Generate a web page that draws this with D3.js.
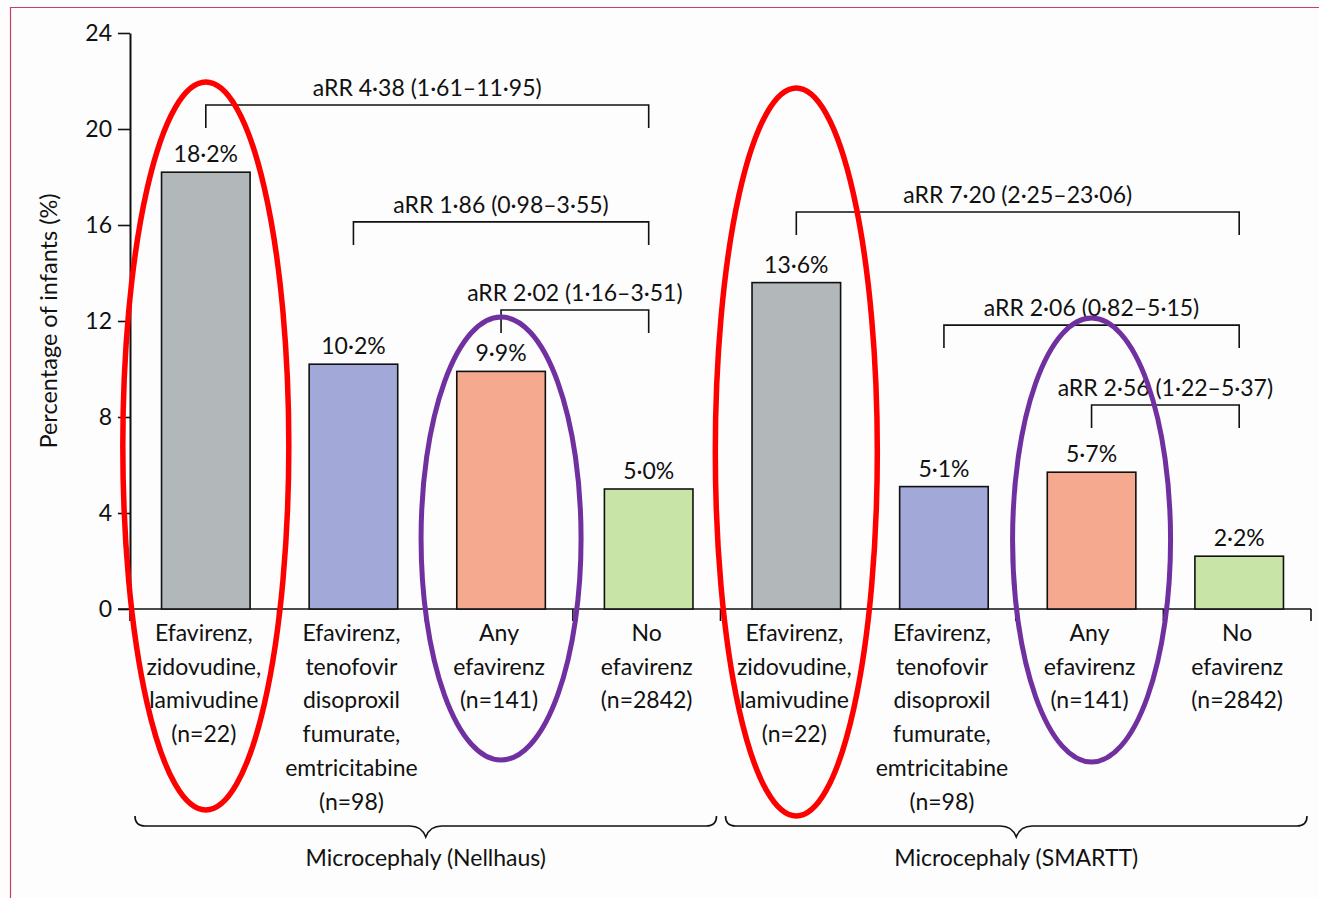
<!DOCTYPE html>
<html>
<head>
<meta charset="utf-8">
<script src="https://cdn.jsdelivr.net/npm/d3@7"></script>
<style>
  body { margin: 0; background: #fdfdfd; }
  svg text { font-family: Lato, "Open Sans", sans-serif; fill: #111; }
</style>
</head>
<body>
<div id="chart"></div>
<script>
// Chart data
var categories = ['EZL-N', 'ETF-N', 'ANY-N', 'NO-N', 'EZL-S', 'ETF-S', 'ANY-S', 'NO-S'];
var values = [18.2, 10.2, 9.9, 5.0, 13.6, 5.1, 5.7, 2.2];
var valueLabels = ['18·2%', '10·2%', '9·9%', '5·0%', '13·6%', '5·1%', '5·7%', '2·2%'];
var categoryLabels = [
  ['Efavirenz,', 'zidovudine,', 'lamivudine', '(n=22)'],
  ['Efavirenz,', 'tenofovir', 'disoproxil', 'fumurate,', 'emtricitabine', '(n=98)'],
  ['Any', 'efavirenz', '(n=141)'],
  ['No', 'efavirenz', '(n=2842)'],
  ['Efavirenz,', 'zidovudine,', 'lamivudine', '(n=22)'],
  ['Efavirenz,', 'tenofovir', 'disoproxil', 'fumurate,', 'emtricitabine', '(n=98)'],
  ['Any', 'efavirenz', '(n=141)'],
  ['No', 'efavirenz', '(n=2842)']
];
var barColors = ['#b2b8b9', '#a2a8d8', '#f5aa8f', '#c9e4a7', '#b2b8b9', '#a2a8d8', '#f5aa8f', '#c9e4a7'];
var groupNames = ['Microcephaly (Nellhaus)', 'Microcephaly (SMARTT)'];
var groupMembers = [[0, 3], [4, 7]];
var yTicks = [0, 4, 8, 12, 16, 20, 24];

// comparisons: from bar, to bar, bracket level (in %), text
var compFrom = [0, 1, 2, 4, 5, 6];
var compTo = [3, 3, 3, 7, 7, 7];
var compLevel = [21.0, 16.13, 12.46, 16.54, 11.83, 8.5];
var compText = ['aRR 4·38 (1·61–11·95)', 'aRR 1·86 (0·98–3·55)', 'aRR 2·02 (1·16–3·51)',
                'aRR 7·20 (2·25–23·06)', 'aRR 2·06 (0·82–5·15)', 'aRR 2·56 (1·22–5·37)'];

// highlighted categories (ellipses)
var highlightCat = [0, 4, 2, 6];
var highlightColor = ['#ff0000', '#ff0000', '#7030a0', '#7030a0'];

var width = 1319, height = 898;
var svg = d3.select('#chart').append('svg')
  .attr('width', width)
  .attr('height', height)
  .style('display', 'block');

svg.append('rect').attr('width', width).attr('height', height).attr('fill', '#fdfdfd');

// pink frame lines (top and left)
svg.append('line').attr('x1', 10).attr('x2', width).attr('y1', 7.5).attr('y2', 7.5)
  .attr('stroke', '#cc3d5f').attr('stroke-width', 1.2);
svg.append('line').attr('x1', 10.5).attr('x2', 10.5).attr('y1', 7).attr('y2', height)
  .attr('stroke', '#cc3d5f').attr('stroke-width', 1.2);

var x = d3.scaleBand().domain(categories).range([130, 1311]).paddingInner(0.4).paddingOuter(0.2);
var y = d3.scaleLinear().domain([0, 24]).range([609, 33]);

// y axis
var yAxis = svg.append('g').attr('transform', 'translate(130,0)')
  .call(d3.axisLeft(y).tickValues(yTicks).tickSize(12).tickSizeOuter(0).tickPadding(6));
yAxis.select('.domain').attr('stroke', '#111').attr('stroke-width', 2);
yAxis.selectAll('.tick line').attr('stroke', '#111').attr('stroke-width', 1.6);
yAxis.selectAll('.tick text').style('font-family', 'Lato, sans-serif').style('font-size', '23px').attr('fill', '#111');

svg.append('text')
  .attr('transform', 'translate(57,' + 321 + ') rotate(-90)')
  .attr('text-anchor', 'middle')
  .style('font-size', '23.5px')
  .text('Percentage of infants (%)');

// x axis baseline with ticks at band boundaries
var step = x.step();
var x0 = x.range()[0];
svg.append('line').attr('x1', 118).attr('x2', x.range()[1]).attr('y1', y(0)).attr('y2', y(0))
  .attr('stroke', '#111').attr('stroke-width', 1.6);
svg.selectAll('.xtick').data(d3.range(categories.length + 1)).enter().append('line')
  .attr('class', 'xtick')
  .attr('x1', function(i){ return x0 + i * step; })
  .attr('x2', function(i){ return x0 + i * step; })
  .attr('y1', y(0))
  .attr('y2', y(0) + 12)
  .attr('stroke', '#111').attr('stroke-width', 1.6);

// bars
svg.selectAll('.bar').data(categories).enter().append('rect')
  .attr('class', 'bar')
  .attr('x', function(d){ return x(d) + 2; })
  .attr('y', function(d, i){ return y(values[i]); })
  .attr('width', x.bandwidth())
  .attr('height', function(d, i){ return y(0) - y(values[i]); })
  .attr('fill', function(d, i){ return barColors[i]; })
  .attr('stroke', '#111').attr('stroke-width', 1.6);

// value labels
svg.selectAll('.vlabel').data(categories).enter().append('text')
  .attr('class', 'vlabel')
  .attr('x', function(d){ return x(d) + 2 + x.bandwidth() / 2; })
  .attr('y', function(d, i){ return y(values[i]) - 10; })
  .attr('text-anchor', 'middle')
  .style('font-size', '23px')
  .text(function(d, i){ return valueLabels[i]; });

// category labels
var catG = svg.selectAll('.clabel').data(categories).enter().append('text')
  .attr('class', 'clabel')
  .attr('text-anchor', 'middle')
  .style('font-size', '23px');
catG.each(function(d, i){
  var t = d3.select(this);
  categoryLabels[i].forEach(function(line, j){
    t.append('tspan')
      .attr('x', x(d) + x.bandwidth() / 2)
      .attr('y', 641 + j * 33.7)
      .text(line);
  });
});

// comparison brackets
function cx(i){ return x(categories[i]) + 2 + x.bandwidth() / 2; }
compText.forEach(function(txt, k){
  var a = cx(compFrom[k]), b = cx(compTo[k]);
  var ly = y(compLevel[k]);
  svg.append('path')
    .attr('d', 'M' + a + ',' + (ly + 23) + 'V' + ly + 'H' + b + 'V' + (ly + 23))
    .attr('fill', 'none').attr('stroke', '#111').attr('stroke-width', 1.6);
  svg.append('text')
    .attr('x', (a + b) / 2)
    .attr('y', ly - 9)
    .attr('text-anchor', 'middle')
    .style('font-size', '23px')
    .text(txt);
});

// group braces
var braceY = 826;
groupMembers.forEach(function(g, k){
  var left = x(categories[g[0]]) - step * x.paddingInner() / 2 + 5;
  var right = x(categories[g[1]]) + x.bandwidth() + step * x.paddingInner() / 2 - 4;
  var mid = (left + right) / 2;
  var p = 'M' + left + ',' + (braceY - 10) +
    'Q' + left + ',' + braceY + ' ' + (left + 10) + ',' + braceY +
    'L' + (mid - 16) + ',' + braceY +
    'Q' + (mid - 4) + ',' + braceY + ' ' + mid + ',' + (braceY + 11) +
    'Q' + (mid + 4) + ',' + braceY + ' ' + (mid + 16) + ',' + braceY +
    'L' + (right - 10) + ',' + braceY +
    'Q' + right + ',' + braceY + ' ' + right + ',' + (braceY - 10);
  svg.append('path').attr('d', p).attr('fill', 'none').attr('stroke', '#111').attr('stroke-width', 1.6);
  svg.append('text')
    .attr('x', mid)
    .attr('y', 866)
    .attr('text-anchor', 'middle')
    .style('font-size', '23px')
    .text(groupNames[k]);
});

// highlight ellipses
var ellipseTop = [82, 88, 317, 318];
var ellipseBottom = [810, 816, 760, 762];
var ellipseRx = [83, 81, 80, 79];
highlightCat.forEach(function(c, k){
  svg.append('ellipse')
    .attr('cx', cx(c))
    .attr('cy', (ellipseTop[k] + ellipseBottom[k]) / 2)
    .attr('rx', ellipseRx[k])
    .attr('ry', (ellipseBottom[k] - ellipseTop[k]) / 2)
    .attr('fill', 'none')
    .attr('stroke', highlightColor[k])
    .attr('stroke-width', highlightColor[k] === '#ff0000' ? 5.5 : 5);
});
</script>
</body>
</html>
